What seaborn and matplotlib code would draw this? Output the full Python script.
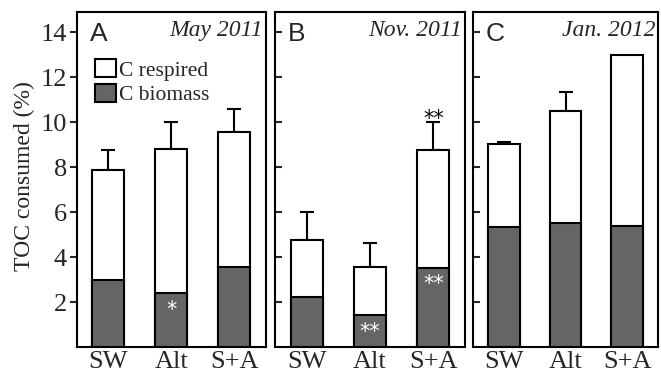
import matplotlib
matplotlib.use("Agg")
import matplotlib.pyplot as plt
import seaborn as sns
import pandas as pd
from matplotlib.patches import Patch

sns.set_theme(style="ticks")
plt.rcParams['font.family'] = ['Liberation Serif', 'DejaVu Serif']

categories = ["SW", "Alt", "S+A"]
panels = ["A", "B", "C"]
dates = ["May 2011", "Nov. 2011", "Jan. 2012"]
total = [[7.87, 8.82, 9.57], [4.74, 3.57, 8.74], [9.04, 10.48, 12.98]]
biomass = [[3.0, 2.39, 3.57], [2.21, 1.42, 3.53], [5.33, 5.5, 5.38]]
err = [[0.87, 1.18, 1.0], [1.27, 1.07, 1.28], [0.09, 0.84, 0.0]]
white_stars = [["", "*", ""], ["", "**", "**"], ["", "", ""]]
black_stars = [["", "", ""], ["", "", "**"], ["", "", ""]]
yticks = [2, 4, 6, 8, 10, 12, 14]

grey = "#656565"
fig = plt.figure(figsize=(6.61, 3.75), dpi=100)
lefts = [76.7, 275, 473]
widths = [189, 190, 185]
axes = []
for i in range(3):
    ax = fig.add_axes([lefts[i] / 661, 28 / 375, widths[i] / 661, 335 / 375])
    axes.append(ax)
    df = pd.DataFrame({"cat": categories, "total": total[i], "bio": biomass[i]})
    sns.barplot(data=df, x="cat", y="total", ax=ax, color="white", edgecolor="black",
                linewidth=1.5, width=0.51, saturation=1, zorder=2)
    sns.barplot(data=df, x="cat", y="bio", ax=ax, color=grey, edgecolor="black",
                linewidth=1.5, width=0.51, saturation=1, zorder=3)
    for j in range(3):
        if err[i][j] > 0:
            ax.errorbar(j, total[i][j], yerr=[[0], [err[i][j]]], fmt="none",
                        ecolor="black", elinewidth=1.5, capsize=4.7, capthick=1.5, zorder=1)
        if white_stars[i][j]:
            ax.text(j, biomass[i][j] - 0.3, white_stars[i][j], color="white",
                    ha="center", va="top", fontsize=15, family="DejaVu Sans", zorder=5)
        if black_stars[i][j]:
            ax.text(j, total[i][j] + err[i][j] - 0.15, black_stars[i][j], color="black",
                    ha="center", va="baseline", fontsize=15, family="DejaVu Sans", zorder=5)
    ax.set_xlim(-0.5, 2.5)
    ax.set_ylim(0, 14.9)
    ax.set_yticks(yticks)
    ax.set_xlabel("")
    ax.set_ylabel("")
    ax.tick_params(axis="x", length=0, labelsize=19, pad=3)
    for s in ax.spines.values():
        s.set_linewidth(1.5)
        s.set_color("black")
    ax.text(0.068, 0.97, panels[i], transform=ax.transAxes, ha="left", va="top",
            fontsize=19, family="Liberation Sans")
    ax.text(0.985, 0.975, dates[i], transform=ax.transAxes, ha="right", va="top",
            fontsize=17, style="italic")
    if i == 0:
        ax.tick_params(axis="y", direction="out", length=5, width=1.5, labelsize=19, pad=2)
    else:
        ax.tick_params(axis="y", direction="in", length=5, width=1.5, labelleft=False)

axes[0].set_ylabel("TOC consumed (%)", fontsize=17)
axes[0].yaxis.set_label_coords(-0.22, 0.51)
handles = [Patch(facecolor="white", edgecolor="black", linewidth=1.5, label="C respired"),
           Patch(facecolor=grey, edgecolor="black", linewidth=1.5, label="C biomass")]
axes[0].legend(handles=handles, loc="upper left", bbox_to_anchor=(0.095, 0.86), frameon=False,
               fontsize=15.5, handlelength=1.0, handleheight=0.95, handletextpad=0.15,
               labelspacing=0.15, borderaxespad=0, borderpad=0)

fig.savefig("out.png", dpi=100)
